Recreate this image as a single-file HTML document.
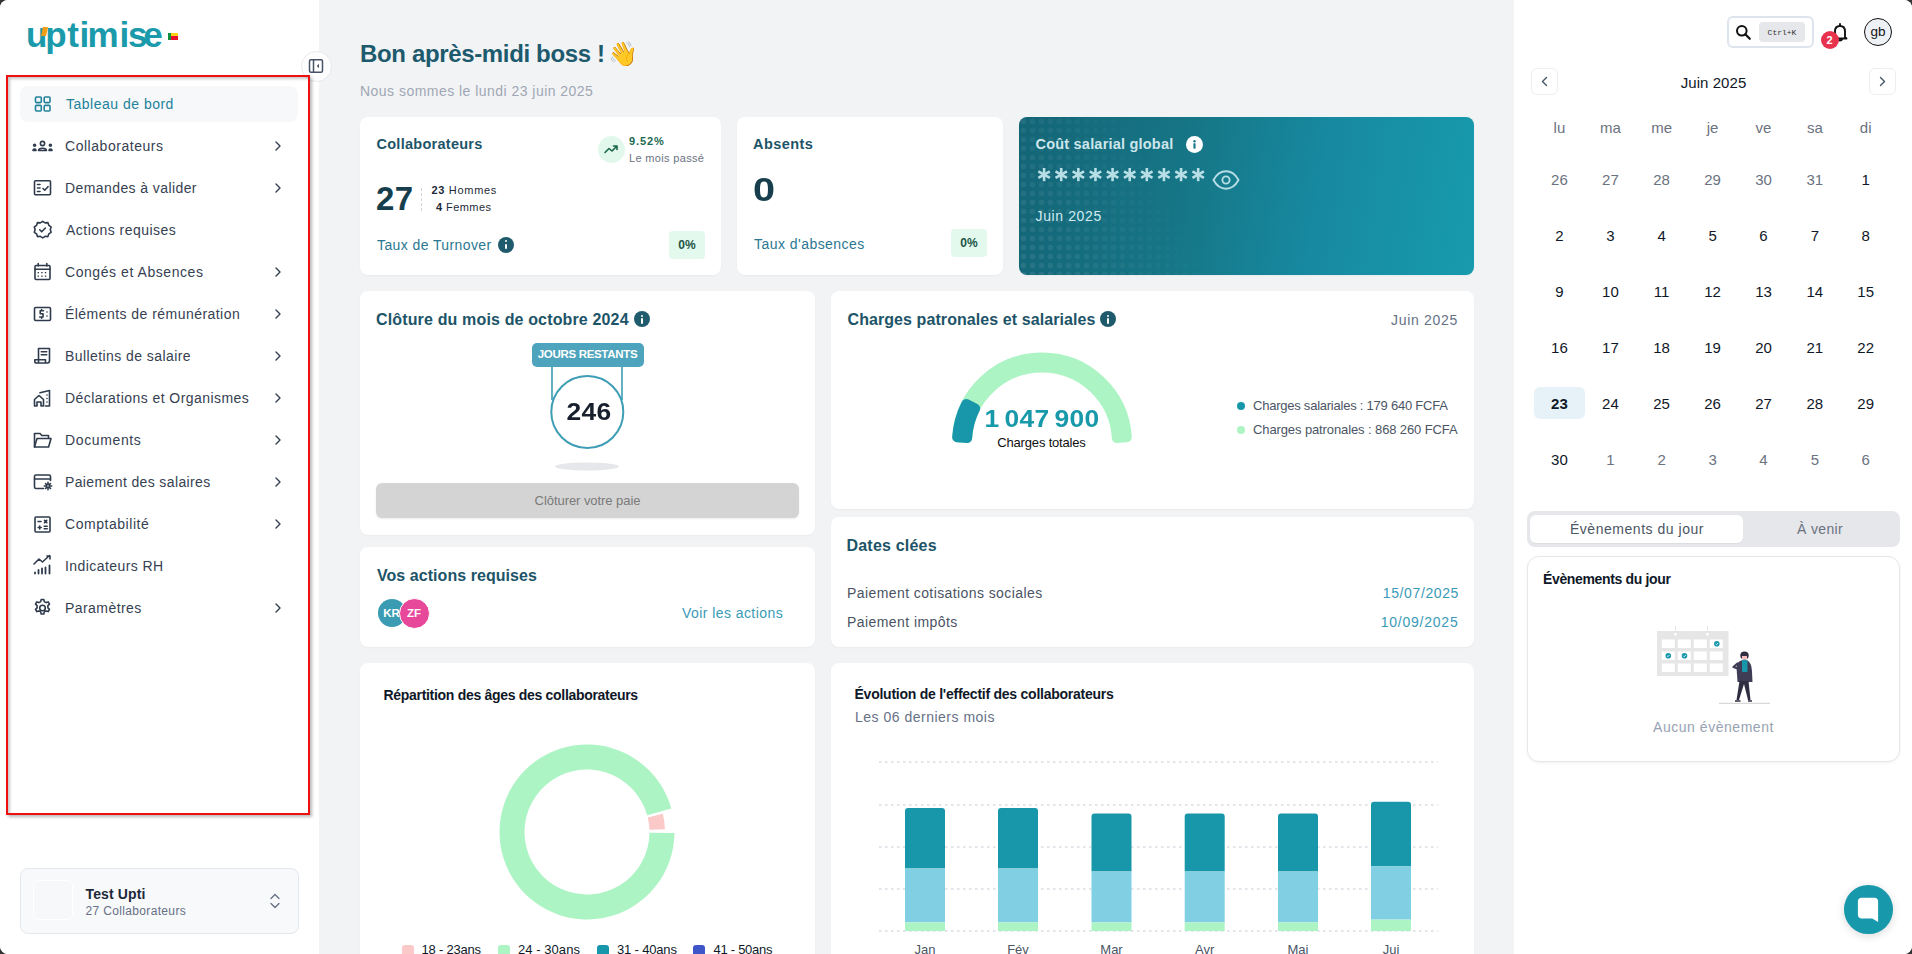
<!DOCTYPE html>
<html><head><meta charset="utf-8">
<style>
*{box-sizing:border-box;margin:0;padding:0}
html,body{width:1912px;height:954px;overflow:hidden;background:#333;font-family:"Liberation Sans",sans-serif}
.app{position:absolute;left:0;top:0;width:1912px;height:954px;border-radius:8px;overflow:hidden;background:#f2f3f5}
.abs{position:absolute;white-space:nowrap}
#side{position:absolute;left:0;top:0;width:319px;height:954px;background:#fff}
#right{position:absolute;left:1514px;top:0;width:398px;height:954px;background:#fff}
.card{position:absolute;background:#fff;border-radius:8px;box-shadow:0 1px 2px rgba(0,0,0,.04)}
.nav{position:absolute;left:20px;width:278px;height:36px}
.nav .t{position:absolute;left:45px;top:10px;font-size:14px;color:#364152;line-height:16px}
.nav svg.ic{position:absolute;left:13px;top:9px;width:18px;height:18px}
.nav svg.ch{position:absolute;left:252px;top:11px;width:14px;height:14px}
.info{width:16px;height:16px;border-radius:50%;background:#1f5b6c}
.info:before{content:"";position:absolute;left:7px;top:3.5px;width:2.2px;height:2.2px;border-radius:50%;background:#fff}
.info:after{content:"";position:absolute;left:7px;top:7px;width:2.2px;height:5.5px;border-radius:1px;background:#fff}
.badge0{width:36px;height:28px;border-radius:4px;background:#e4f9ee;color:#1b5445;font-size:12px;font-weight:bold;text-align:center;line-height:28px}
#teal{background:linear-gradient(100deg,#136576 0%,#167585 35%,#1789a0 65%,#189bad 100%);overflow:hidden}
#teal:before{content:"";position:absolute;left:0;top:0;width:260px;height:158px;background-image:radial-gradient(circle,rgba(255,255,255,.09) 2.6px,transparent 3.2px);background-size:9px 9px;-webkit-mask-image:linear-gradient(65deg,#000 0%,rgba(0,0,0,.6) 25%,transparent 60%);mask-image:linear-gradient(65deg,#000 0%,rgba(0,0,0,.6) 25%,transparent 60%)}
.cd{width:50px;text-align:center;font-size:15px;line-height:17px}
.navbtn{width:27px;height:27px;border:1px solid #eceef2;border-radius:6px;background:#fff}
.navbtn svg{position:absolute;left:-1px;top:-1px}
</style></head><body><div class="app">

<!-- SIDEBAR -->
<div id="side">
 <div class="abs" id="logo" style="left:0;top:9.7px;width:200px;height:50px;font-size:35px;font-weight:bold;color:#1a9aab;line-height:50px"><span id="lg0" style="position: absolute; left: 26px; top: 0px;">u</span><span id="lg1" style="position: absolute; left: 45.3px; top: 0px;">p</span><span id="lg2" style="position: absolute; left: 67.3px; top: 0px;">t</span><span id="lg3" style="position: absolute; left: 79.6px; top: 0px;">i</span><span id="lg4" style="position: absolute; left: 87.6px; top: 0px;">m</span><span id="lg5" style="position: absolute; left: 119.6px; top: 0px;">i</span><span id="lg6" style="position: absolute; left: 127.9px; top: 0px;">s</span><span id="lg7" style="position: absolute; left: 143.2px; top: 0px;">e</span></div>
 <div class="abs" id="utick" style="left: 41.5px; top: 27px; width: 4.5px; height: 9px; background: rgb(242, 157, 22); transform: skewX(-12deg);"></div>
 <div class="abs" style="left:168px;top:33px;width:10px;height:7px;background:linear-gradient(90deg,#11913f 0 3px,transparent 3px),linear-gradient(180deg,#fcd116 0 50%,#e8112d 50%)"></div>
 <div class="abs" style="left:301px;top:51px;width:31px;height:31px;border-radius:50%;background:#fff;border:1px solid #e8eaee"></div>
 <svg class="abs" style="left:308px;top:58px" width="16" height="16" viewBox="0 0 16 16"><rect x="1.5" y="1.7" width="13" height="12.6" rx="1.5" fill="none" stroke="#475467" stroke-width="1.5"></rect><line x1="5.5" y1="2" x2="5.5" y2="14" stroke="#475467" stroke-width="1.5"></line><path d="M11 5.8 L8.8 8 L11 10.2Z" fill="#475467"></path></svg>
 <div class="abs" style="left:6px;top:75px;width:304px;height:740px;border:2px solid #ef0f0f;box-shadow:2px 2px 3px rgba(0,0,0,.28), inset 2px 2px 3px rgba(0,0,0,.22)"></div>
 <div class="abs" style="left:20px;top:86px;width:278px;height:36px;background:#f6f8fa;border-radius:8px"></div>
 <div class="abs" style="left: 66px; top: 95.34px; font-size: 14px; line-height: 18px; color: rgb(35, 130, 154); letter-spacing: 0.499px;">Tableau de bord</div>
 <div class="abs" style="left: 65px; top: 137.34px; font-size: 14px; line-height: 18px; color: rgb(54, 65, 82); letter-spacing: 0.537px;">Collaborateurs</div>
 <svg class="abs" style="left:272px;top:139px" width="12" height="14" viewBox="0 0 12 14"><path d="M4 3 L8 7 L4 11" fill="none" stroke="#364152" stroke-width="1.4" stroke-linecap="round" stroke-linejoin="round"></path></svg>
 <div class="abs" style="left: 65px; top: 179.34px; font-size: 14px; line-height: 18px; color: rgb(54, 65, 82); letter-spacing: 0.412px;">Demandes à valider</div>
 <svg class="abs" style="left:272px;top:181px" width="12" height="14" viewBox="0 0 12 14"><path d="M4 3 L8 7 L4 11" fill="none" stroke="#364152" stroke-width="1.4" stroke-linecap="round" stroke-linejoin="round"></path></svg>
 <div class="abs" style="left: 66px; top: 221.34px; font-size: 14px; line-height: 18px; color: rgb(54, 65, 82); letter-spacing: 0.466px;">Actions requises</div>
 <div class="abs" style="left: 65px; top: 263.34px; font-size: 14px; line-height: 18px; color: rgb(54, 65, 82); letter-spacing: 0.559px;">Congés et Absences</div>
 <svg class="abs" style="left:272px;top:265px" width="12" height="14" viewBox="0 0 12 14"><path d="M4 3 L8 7 L4 11" fill="none" stroke="#364152" stroke-width="1.4" stroke-linecap="round" stroke-linejoin="round"></path></svg>
 <div class="abs" style="left: 65px; top: 305.34px; font-size: 14px; line-height: 18px; color: rgb(54, 65, 82); letter-spacing: 0.456px;">Éléments de rémunération</div>
 <svg class="abs" style="left:272px;top:307px" width="12" height="14" viewBox="0 0 12 14"><path d="M4 3 L8 7 L4 11" fill="none" stroke="#364152" stroke-width="1.4" stroke-linecap="round" stroke-linejoin="round"></path></svg>
 <div class="abs" style="left: 65px; top: 347.34px; font-size: 14px; line-height: 18px; color: rgb(54, 65, 82); letter-spacing: 0.423px;">Bulletins de salaire</div>
 <svg class="abs" style="left:272px;top:349px" width="12" height="14" viewBox="0 0 12 14"><path d="M4 3 L8 7 L4 11" fill="none" stroke="#364152" stroke-width="1.4" stroke-linecap="round" stroke-linejoin="round"></path></svg>
 <div class="abs" style="left: 65px; top: 389.34px; font-size: 14px; line-height: 18px; color: rgb(54, 65, 82); letter-spacing: 0.44px;">Déclarations et Organismes</div>
 <svg class="abs" style="left:272px;top:391px" width="12" height="14" viewBox="0 0 12 14"><path d="M4 3 L8 7 L4 11" fill="none" stroke="#364152" stroke-width="1.4" stroke-linecap="round" stroke-linejoin="round"></path></svg>
 <div class="abs" style="left: 65px; top: 431.34px; font-size: 14px; line-height: 18px; color: rgb(54, 65, 82); letter-spacing: 0.625px;">Documents</div>
 <svg class="abs" style="left:272px;top:433px" width="12" height="14" viewBox="0 0 12 14"><path d="M4 3 L8 7 L4 11" fill="none" stroke="#364152" stroke-width="1.4" stroke-linecap="round" stroke-linejoin="round"></path></svg>
 <div class="abs" style="left: 65px; top: 473.34px; font-size: 14px; line-height: 18px; color: rgb(54, 65, 82); letter-spacing: 0.375px;">Paiement des salaires</div>
 <svg class="abs" style="left:272px;top:475px" width="12" height="14" viewBox="0 0 12 14"><path d="M4 3 L8 7 L4 11" fill="none" stroke="#364152" stroke-width="1.4" stroke-linecap="round" stroke-linejoin="round"></path></svg>
 <div class="abs" style="left: 65px; top: 515.34px; font-size: 14px; line-height: 18px; color: rgb(54, 65, 82); letter-spacing: 0.545px;">Comptabilité</div>
 <svg class="abs" style="left:272px;top:517px" width="12" height="14" viewBox="0 0 12 14"><path d="M4 3 L8 7 L4 11" fill="none" stroke="#364152" stroke-width="1.4" stroke-linecap="round" stroke-linejoin="round"></path></svg>
 <div class="abs" style="left: 65px; top: 557.34px; font-size: 14px; line-height: 18px; color: rgb(54, 65, 82); letter-spacing: 0.423px;">Indicateurs RH</div>
 <div class="abs" style="left: 65px; top: 599.34px; font-size: 14px; line-height: 18px; color: rgb(54, 65, 82); letter-spacing: 0.444px;">Paramètres</div>
 <svg class="abs" style="left:272px;top:601px" width="12" height="14" viewBox="0 0 12 14"><path d="M4 3 L8 7 L4 11" fill="none" stroke="#364152" stroke-width="1.4" stroke-linecap="round" stroke-linejoin="round"></path></svg>

 <svg class="abs" style="left:0;top:0" width="319" height="700" viewBox="0 0 319 700">
  <g fill="none" stroke="#23829a" stroke-width="1.6" stroke-linejoin="round"><rect x="35.5" y="97" width="5.8" height="5.6" rx="1"></rect><rect x="44.2" y="97" width="5.8" height="5.6" rx="1"></rect><rect x="35.5" y="105.4" width="5.8" height="5.6" rx="1"></rect><rect x="44.2" y="105.4" width="5.8" height="5.6" rx="1"></rect></g>
  <g fill="none" stroke="#2f3b4c" stroke-width="1.6" stroke-linecap="round" stroke-linejoin="round"><circle cx="42.5" cy="143.5" r="2.1"></circle><path d="M38.5 150.5 C38.8 147.5 46.2 147.5 46.5 150.5Z"></path><circle cx="34.6" cy="145.2" r="1"></circle><path d="M33 150.5 C33 148.6 36 148.6 36 150.5Z"></path><circle cx="50.4" cy="145.2" r="1"></circle><path d="M49 150.5 C49 148.6 52 148.6 52 150.5Z"></path></g>
  <g fill="none" stroke="#2f3b4c" stroke-width="1.6" stroke-linecap="round" stroke-linejoin="round"><rect x="34.5" y="180.8" width="16" height="14" rx="1"></rect><path d="M37.5 184.5h2.5M37.5 188h2.5M37.5 191.5h2.5M43 188.5l1.7 1.7 3.3-3.5"></path></g>
  <g fill="none" stroke="#2f3b4c" stroke-width="1.6" stroke-linecap="round" stroke-linejoin="round"><path d="M42.7 221.3 l2.4 1.6 2.8-.3 .9 2.7 2.3 1.6-.8 2.7.8 2.7-2.3 1.6-.9 2.7-2.8-.3-2.4 1.6-2.4-1.6-2.8.3-.9-2.7-2.3-1.6.8-2.7-.8-2.7 2.3-1.6.9-2.7 2.8.3Z"></path><path d="M39.7 229.8l2 2 3.7-3.8"></path></g>
  <g fill="none" stroke="#2f3b4c" stroke-width="1.6" stroke-linecap="round" stroke-linejoin="round"><rect x="35" y="265.5" width="15" height="14" rx="1"></rect><path d="M35 269.3h15M38.2 263.5v2.5M46.8 263.5v2.5"></path></g>
  <g fill="#2f3b4c"><rect x="37.6" y="272" width="1.4" height="1.3"></rect><rect x="41.2" y="272" width="1.4" height="1.3"></rect><rect x="44.8" y="272" width="1.4" height="1.3"></rect><rect x="37.6" y="275.5" width="1.4" height="1.3"></rect><rect x="41.2" y="275.5" width="1.4" height="1.3"></rect><rect x="44.8" y="275.5" width="1.4" height="1.3"></rect></g>
  <g fill="none" stroke="#2f3b4c" stroke-width="1.6" stroke-linecap="round" stroke-linejoin="round"><rect x="34.5" y="307.5" width="16" height="13" rx="1.2"></rect><path d="M43.5 310.8h-3.3v3h2.8v3.2h-3.3M41.6 309.6v1.2M41.6 317v1.2M47 312h.01M47 316h.01"></path></g>
  <g fill="none" stroke="#2f3b4c" stroke-width="1.6" stroke-linecap="round" stroke-linejoin="round"><path d="M38.5 362 V348.5 H49.5 V360.5 C49.5 362 48.5 363 47.5 363 H36.5 C35.5 363 34.8 362.2 34.8 361.2 V359.8 H45.5 V362.3"></path><path d="M41.3 351.8h5.4M41.3 354.8h5.4"></path></g>
  <g fill="none" stroke="#2f3b4c" stroke-width="1.6" stroke-linecap="round" stroke-linejoin="round"><path d="M34.5 406 V399.5 L39 395.5 L43.5 399.5 V406 H41 V402 H37 V406Z"></path><path d="M40 392.8 L49.5 390.5 V406 H45.5"></path><path d="M47 395h.01M47 398.5h.01M47 402h.01"></path></g>
  <g fill="none" stroke="#2f3b4c" stroke-width="1.6" stroke-linecap="round" stroke-linejoin="round"><path d="M34.5 447 V433.5 H40 L41.8 435.5 H48.5 V438"></path><path d="M34.5 447 L37 438.5 H51 L48.6 447Z"></path></g>
  <g fill="none" stroke="#2f3b4c" stroke-width="1.6" stroke-linecap="round" stroke-linejoin="round"><path d="M43.5 488.5 H36 C35.2 488.5 34.5 487.8 34.5 487 V476.5 C34.5 475.7 35.2 475 36 475 H49 C49.8 475 50.5 475.7 50.5 476.5 V480.5"></path><path d="M34.5 479h16"></path><circle cx="48" cy="486" r="1.6"></circle><path d="M48 482.2v1.3M48 488.5v1.3M44.3 486h1.3M50.4 486h1.3M45.5 483.5l.9.9M49.6 487.6l.9.9M45.5 488.5l.9-.9M49.6 484.4l.9-.9"></path></g>
  <g fill="none" stroke="#2f3b4c" stroke-width="1.6" stroke-linecap="round" stroke-linejoin="round"><rect x="35" y="517" width="15" height="15" rx="1"></rect><path d="M38 521.5h3M44.5 520.3l2.3 2.3M46.8 520.3l-2.3 2.3M38.2 527.5h3M39.7 526v3M44.2 526.3h3M44.2 528.7h3"></path></g>
  <g fill="none" stroke="#2f3b4c" stroke-width="1.6" stroke-linecap="round" stroke-linejoin="round"><path d="M34 564l5-5 3.5 3 7-6.5M47 556h3v3"></path><path d="M35 573.5v-1M38.5 573.5v-3.5M42 573.5v-5M45.5 573.5v-6M49.5 573.5v-8" stroke-width="1.8"></path></g>
  <g fill="none" stroke="#2f3b4c" stroke-width="1.6" stroke-linecap="round" stroke-linejoin="round"><circle cx="42.5" cy="608" r="2.8"></circle><path d="M41.2 599.5h2.6l.5 2.1 1.8 1 2.1-.7 1.3 2.3-1.6 1.5v2.1l1.6 1.5-1.3 2.3-2.1-.7-1.8 1-.5 2.1h-2.6l-.5-2.1-1.8-1-2.1.7-1.3-2.3 1.6-1.5v-2.1l-1.6-1.5 1.3-2.3 2.1.7 1.8-1Z"></path></g>
 </svg>

 <div class="abs" style="left:20px;top:868px;width:279px;height:66px;border:1px solid #e4e7ec;border-radius:8px;background:#f8f9fb"></div>
 <div class="abs" style="left:33px;top:880px;width:40px;height:40px;border:1px solid #fff;border-radius:6px;background:#f6f8fa"></div>
 <div class="abs" style="left: 85.5px; top: 884.54px; font-size: 14px; font-weight: bold; color: rgb(29, 41, 57); line-height: 18px; letter-spacing: 0.125px;">Test Upti</div>
 <div class="abs" style="left: 85.5px; top: 903.85px; font-size: 12px; color: rgb(102, 112, 133); line-height: 15px; letter-spacing: 0.344px;">27 Collaborateurs</div>
 <svg class="abs" style="left:268px;top:892px" width="14" height="18" viewBox="0 0 14 18"><path d="M3 6.5 L7 2.5 L11 6.5M3 11.5 L7 15.5 L11 11.5" fill="none" stroke="#667085" stroke-width="1.3" stroke-linecap="round" stroke-linejoin="round"></path></svg>
</div>

<!-- MAIN -->
<div id="main">
 <div class="abs" id="h1" style="left: 360px; top: 39.49px; font-size: 24px; font-weight: bold; color: rgb(29, 90, 109); line-height: 30px; letter-spacing: -0.35px;">Bon après-midi boss !</div>
 <div class="abs" style="left:608px;top:39px;font-size:24px;line-height:30px">👋</div>
 <div class="abs" style="left: 360px; top: 83.34px; font-size: 14px; color: rgb(160, 167, 180); line-height: 17px; letter-spacing: 0.469px;">Nous sommes le lundi 23 juin 2025</div>

 <!-- card collaborateurs -->
 <div class="card" style="left:360px;top:117px;width:361px;height:158px"></div>
 <div class="abs" style="left: 376.5px; top: 135.59px; font-size: 14.5px; font-weight: bold; color: rgb(29, 84, 104); line-height: 17px; letter-spacing: 0.27px;">Collaborateurs</div>
 <div class="abs" style="left:598px;top:136px;width:27px;height:27px;border-radius:50%;background:#e3f8ec"></div>
 <svg class="abs" style="left:603px;top:142px" width="17" height="14" viewBox="0 0 17 14"><path d="M2 10.5 L6 6.5 L9 9 L14 4 M10.5 4 H14 V7.5" fill="none" stroke="#17664c" stroke-width="1.6" stroke-linecap="round" stroke-linejoin="round"></path></svg>
 <div class="abs" style="left: 629px; top: 134.85px; font-size: 11px; font-weight: bold; color: rgb(27, 106, 82); line-height: 12px; letter-spacing: 0.875px;">9.52%</div>
 <div class="abs" style="left: 629px; top: 151.74px; font-size: 11px; color: rgb(107, 114, 128); line-height: 12px; letter-spacing: 0.333px;">Le mois passé</div>
 <div class="abs" style="left: 376px; top: 182.15px; font-size: 33px; font-weight: bold; color: rgb(23, 62, 76); line-height: 34px; letter-spacing: 0.5px;">27</div>
 <div class="abs" style="left:421px;top:188px;width:0;height:23px;border-left:1.5px dashed #cfd4dc"></div>
 <div class="abs" style="left: 431.5px; top: 183.65px; font-size: 11px; color: rgb(30, 42, 56); line-height: 12px; letter-spacing: 0.685px;"><b>23</b> Hommes</div>
 <div class="abs" style="left: 436px; top: 200.8px; font-size: 11px; color: rgb(30, 42, 56); line-height: 12px; letter-spacing: 0.429px;"><b>4</b> Femmes</div>
 <div class="abs" style="left: 377px; top: 237.34px; font-size: 14px; color: rgb(42, 120, 145); line-height: 16px; letter-spacing: 0.401px;">Taux de Turnover</div>
 <div class="abs info" style="left:498px;top:236.5px"></div>
 <div class="abs badge0" style="left:669px;top:231px">0%</div>

 <!-- card absents -->
 <div class="card" style="left:737px;top:117px;width:266px;height:158px"></div>
 <div class="abs" style="left: 753px; top: 136.09px; font-size: 14.5px; font-weight: bold; color: rgb(29, 84, 104); line-height: 17px; letter-spacing: 0.417px;">Absents</div>
 <div class="abs" style="left: 753px; top: 172.95px; font-size: 33px; font-weight: bold; color: rgb(23, 62, 76); line-height: 34px; transform: scaleX(1.2); transform-origin: 0 0;">0</div>
 <div class="abs" style="left: 754px; top: 236.04px; font-size: 14px; color: rgb(42, 120, 145); line-height: 16px; letter-spacing: 0.463px;">Taux d'absences</div>
 <div class="abs badge0" style="left:951px;top:229px">0%</div>

 <!-- teal card -->
 <div class="card" id="teal" style="left:1019px;top:117px;width:455px;height:158px"></div>
 <div class="abs" style="left: 1035.5px; top: 136.18px; font-size: 14.5px; font-weight: bold; color: rgb(205, 230, 236); line-height: 17px; letter-spacing: 0.209px;">Coût salarial global</div>
 <div class="abs" style="left:1186px;top:135.5px;width:17px;height:17px;border-radius:50%;background:#fff"></div>
 <svg class="abs" style="left:1186px;top:135.5px" width="17" height="17" viewBox="0 0 17 17"><circle cx="8.5" cy="5.2" r="1.2" fill="#1b7788"></circle><rect x="7.4" y="7.2" width="2.2" height="5.5" rx=".6" fill="#1b7788"></rect></svg>
 <svg class="abs" style="left:1030px;top:160px" width="180" height="30" viewBox="1030 160 180 30"><g stroke="#b9dfe6" stroke-width="2.6"><line x1="1044.10" y1="168.00" x2="1044.10" y2="181.20"/><line x1="1038.38" y1="171.30" x2="1049.82" y2="177.90"/><line x1="1049.82" y1="171.30" x2="1038.38" y2="177.90"/><line x1="1061.22" y1="168.00" x2="1061.22" y2="181.20"/><line x1="1055.50" y1="171.30" x2="1066.94" y2="177.90"/><line x1="1066.94" y1="171.30" x2="1055.50" y2="177.90"/><line x1="1078.34" y1="168.00" x2="1078.34" y2="181.20"/><line x1="1072.62" y1="171.30" x2="1084.06" y2="177.90"/><line x1="1084.06" y1="171.30" x2="1072.62" y2="177.90"/><line x1="1095.46" y1="168.00" x2="1095.46" y2="181.20"/><line x1="1089.74" y1="171.30" x2="1101.18" y2="177.90"/><line x1="1101.18" y1="171.30" x2="1089.74" y2="177.90"/><line x1="1112.58" y1="168.00" x2="1112.58" y2="181.20"/><line x1="1106.86" y1="171.30" x2="1118.30" y2="177.90"/><line x1="1118.30" y1="171.30" x2="1106.86" y2="177.90"/><line x1="1129.70" y1="168.00" x2="1129.70" y2="181.20"/><line x1="1123.98" y1="171.30" x2="1135.42" y2="177.90"/><line x1="1135.42" y1="171.30" x2="1123.98" y2="177.90"/><line x1="1146.82" y1="168.00" x2="1146.82" y2="181.20"/><line x1="1141.10" y1="171.30" x2="1152.54" y2="177.90"/><line x1="1152.54" y1="171.30" x2="1141.10" y2="177.90"/><line x1="1163.94" y1="168.00" x2="1163.94" y2="181.20"/><line x1="1158.22" y1="171.30" x2="1169.66" y2="177.90"/><line x1="1169.66" y1="171.30" x2="1158.22" y2="177.90"/><line x1="1181.06" y1="168.00" x2="1181.06" y2="181.20"/><line x1="1175.34" y1="171.30" x2="1186.78" y2="177.90"/><line x1="1186.78" y1="171.30" x2="1175.34" y2="177.90"/><line x1="1198.18" y1="168.00" x2="1198.18" y2="181.20"/><line x1="1192.46" y1="171.30" x2="1203.90" y2="177.90"/><line x1="1203.90" y1="171.30" x2="1192.46" y2="177.90"/></g></svg>
 <svg class="abs" style="left:1210px;top:168px" width="32" height="24" viewBox="1210 168 32 24"><path d="M1213.5 180 C1217 173.5 1221.5 171.3 1226 171.3 C1230.5 171.3 1235 173.5 1238.5 180 C1235 186.5 1230.5 188.7 1226 188.7 C1221.5 188.7 1217 186.5 1213.5 180Z" fill="none" stroke="#b6dde4" stroke-width="1.9"/><circle cx="1226" cy="180" r="3.6" fill="none" stroke="#b6dde4" stroke-width="1.9"/></svg>
 <div class="abs" style="left: 1035.5px; top: 207.94px; font-size: 14px; color: rgb(210, 234, 239); line-height: 17px; letter-spacing: 0.625px;">Juin 2025</div>

 <!-- cloture -->
 <div class="card" style="left:360px;top:291px;width:455px;height:244px"></div>
 <div class="abs" style="left: 376px; top: 310.13px; font-size: 16px; font-weight: bold; color: rgb(29, 84, 104); line-height: 19px; letter-spacing: 0.15px;">Clôture du mois de octobre 2024</div>
 <div class="abs info" style="left:634px;top:311px"></div>
 <svg class="abs" style="left:520px;top:340px" width="135" height="135" viewBox="520 340 135 135">
  <line x1="552" y1="364" x2="552" y2="400" stroke="#3d9db5" stroke-width="1.6"></line>
  <line x1="622" y1="364" x2="622" y2="400" stroke="#3d9db5" stroke-width="1.6"></line>
  <ellipse cx="587" cy="466.5" rx="32" ry="4" fill="#e5e7eb"></ellipse>
  <circle cx="587.3" cy="412" r="36" fill="#fff" stroke="#3d9db5" stroke-width="2"></circle>
 </svg>
 <div class="abs" style="left: 531.5px; top: 343px; width: 112px; height: 24px; background: rgb(78, 164, 188); border-radius: 5px; color: rgb(255, 255, 255); font-size: 11.5px; font-weight: bold; text-align: center; line-height: 22px; letter-spacing: -0.307px;">JOURS RESTANTS</div>
 <div class="abs" style="left: 538.5px; top: 398.29px; width: 100px; text-align: center; font-size: 24px; font-weight: bold; color: rgb(24, 32, 46); line-height: 28px; letter-spacing: 0.3px; transform: scaleX(1.1);">246</div>
 <div class="abs" style="left: 376px; top: 482.95px; width: 423px; height: 35px; background: rgb(212, 212, 212); border-radius: 6px; box-shadow: rgba(0, 0, 0, 0.08) 0px 1px 2px; color: rgb(122, 122, 122); font-size: 13px; text-align: center; line-height: 35px; letter-spacing: -0.056px;">Clôturer votre paie</div>

 <!-- charges -->
 <div class="card" style="left:831px;top:291px;width:643px;height:218px"></div>
 <div class="abs" style="left: 847.5px; top: 309.93px; font-size: 16px; font-weight: bold; color: rgb(29, 84, 104); line-height: 19px; letter-spacing: 0.079px;">Charges patronales et salariales</div>
 <div class="abs info" style="left:1100px;top:311px"></div>
 <div class="abs" style="left: 1380px; top: 311.74px; width: 78px; text-align: right; font-size: 14px; color: rgb(102, 112, 133); line-height: 17px; letter-spacing: 0.69px;">Juin 2025</div>
 <svg class="abs" style="left:940px;top:340px" width="205" height="110" viewBox="940 340 205 110">
  <path id="g1" stroke="#adf4c5" stroke-width="10" stroke-linejoin="round" d="M957.16 437.31 A85 85 0 0 1 1126.84 437.31 L1116.86 437.92 A75 75 0 0 0 967.14 437.92Z" fill="#adf4c5"></path>
  <path id="g2" stroke="#1797a9" stroke-width="10" stroke-linejoin="round" d="M957.16 437.31 A85 85 0 0 1 966.26 403.91 L975.17 408.45 A75 75 0 0 0 967.14 437.92Z" fill="#1797a9"></path>
 </svg>
 <div class="abs" style="left: 962px; top: 404.79px; width: 160px; text-align: center; font-size: 24px; font-weight: bold; color: rgb(24, 153, 170); line-height: 28px; letter-spacing: 0.3px; word-spacing: -2.5px; transform: scaleX(1.1);">1 047 900</div>
 <div class="abs" style="left: 961.5px; top: 434.95px; width: 160px; text-align: center; font-size: 13px; color: rgb(16, 16, 16); line-height: 15px; letter-spacing: -0.179px;">Charges totales</div>
 <div class="abs" style="left:1236.5px;top:401.5px;width:8px;height:8px;border-radius:50%;background:#1797a9"></div>
 <div class="abs" style="left:1236.5px;top:425.5px;width:8px;height:8px;border-radius:50%;background:#adf4c5"></div>
 <div class="abs" style="left: 1253px; top: 398.24px; font-size: 13px; color: rgb(75, 85, 101); line-height: 15px; letter-spacing: -0.235px;">Charges salariales : 179 640 FCFA</div>
 <div class="abs" style="left: 1253px; top: 422.24px; font-size: 13px; color: rgb(75, 85, 101); line-height: 15px; letter-spacing: -0.109px;">Charges patronales : 868 260 FCFA</div>

 <!-- actions -->
 <div class="card" style="left:360px;top:547px;width:455px;height:100px"></div>
 <div class="abs" style="left: 377px; top: 565.53px; font-size: 16px; font-weight: bold; color: rgb(29, 84, 104); line-height: 19px; letter-spacing: 0.053px;">Vos actions requises</div>
 <div class="abs" style="left:377.5px;top:599px;width:28px;height:28px;border-radius:50%;background:#3a9bb3;color:#fff;font-size:11.5px;font-weight:bold;line-height:28px;text-align:center">KR</div>
 <div class="abs" style="left:398.5px;top:597.5px;width:31px;height:31px;border-radius:50%;background:#e8489a;border:1.5px solid #fff;color:#fff;font-size:11.5px;font-weight:bold;line-height:28px;text-align:center">ZF</div>
 <div class="abs" style="left: 682px; top: 605.34px; font-size: 14px; color: rgb(58, 154, 182); line-height: 17px; letter-spacing: 0.432px;">Voir les actions</div>

 <!-- dates -->
 <div class="card" style="left:831px;top:517px;width:643px;height:130px"></div>
 <div class="abs" style="left: 846.5px; top: 535.63px; font-size: 16px; font-weight: bold; color: rgb(29, 84, 104); line-height: 19px; letter-spacing: 0.2px;">Dates clées</div>
 <div class="abs" style="left: 847px; top: 584.74px; font-size: 14px; color: rgb(74, 83, 99); line-height: 17px; letter-spacing: 0.411px;">Paiement cotisations sociales</div>
 <div class="abs" style="left: 1301px; top: 584.74px; width: 158px; text-align: right; font-size: 14px; color: rgb(58, 154, 182); line-height: 17px; letter-spacing: 0.61px;">15/07/2025</div>
 <div class="abs" style="left: 847px; top: 613.84px; font-size: 14px; color: rgb(74, 83, 99); line-height: 17px; letter-spacing: 0.428px;">Paiement impôts</div>
 <div class="abs" style="left: 1300.5px; top: 613.84px; width: 158px; text-align: right; font-size: 14px; color: rgb(58, 154, 182); line-height: 17px; letter-spacing: 0.778px;">10/09/2025</div>

 <!-- repartition -->
 <div class="card" style="left:360px;top:663px;width:455px;height:320px"></div>
 <div class="abs" style="left: 383.5px; top: 686.74px; font-size: 14px; font-weight: bold; color: rgb(16, 24, 40); line-height: 17px; letter-spacing: -0.302px;">Répartition des âges des collaborateurs</div>
 <svg class="abs" style="left:480px;top:730px" width="210" height="205" viewBox="480 730 210 205">
  <path id="d1" d="M671.32 808.62 A87.5 87.5 0 1 0 674.49 833.07 L649.50 832.76 A62.5 62.5 0 1 1 647.23 815.30Z" fill="#adf4c5"></path>
  <path id="d2" d="M664.95 829.28 A78 78 0 0 0 662.84 813.79 L647.77 817.41 A62.5 62.5 0 0 1 649.46 829.82Z" fill="#fcc9c9"></path>
 </svg>
 <div class="abs" style="left:402px;top:944.5px;width:12px;height:12px;border-radius:3px;background:#fcc9c9"></div>
 <div class="abs" style="left:498px;top:944.5px;width:12px;height:12px;border-radius:3px;background:#adf4c5"></div>
 <div class="abs" style="left:597px;top:944.5px;width:12px;height:12px;border-radius:3px;background:#1797a9"></div>
 <div class="abs" style="left:693px;top:944.5px;width:12px;height:12px;border-radius:3px;background:#3f56c9"></div>
 <div class="abs" style="left: 421.5px; top: 941.5px; font-size: 13px; color: rgb(16, 24, 40); line-height: 15px; letter-spacing: -0.221px;">18 - 23ans</div>
 <div class="abs" style="left: 518px; top: 941.5px; font-size: 13px; color: rgb(16, 24, 40); line-height: 15px; letter-spacing: 0.055px;">24 - 30ans</div>
 <div class="abs" style="left: 617px; top: 941.5px; font-size: 13px; color: rgb(16, 24, 40); line-height: 15px; letter-spacing: -0.166px;">31 - 40ans</div>
 <div class="abs" style="left: 713.5px; top: 941.5px; font-size: 13px; color: rgb(16, 24, 40); line-height: 15px; letter-spacing: -0.277px;">41 - 50ans</div>

 <!-- evolution -->
 <div class="card" style="left:831px;top:663px;width:643px;height:320px"></div>
 <div class="abs" style="left: 854.5px; top: 686.34px; font-size: 14px; font-weight: bold; color: rgb(16, 24, 40); line-height: 17px; letter-spacing: -0.245px;">Évolution de l'effectif des collaborateurs</div>
 <div class="abs" style="left: 855px; top: 709.34px; font-size: 14px; color: rgb(102, 112, 133); line-height: 17px; letter-spacing: 0.5px;">Les 06 derniers mois</div>
 <svg class="abs" style="left:870px;top:750px" width="580" height="204" viewBox="870 750 580 204" id="bars"><line x1="879" y1="762" x2="1438" y2="762" stroke="#d9dde3" stroke-width="1.3" stroke-dasharray="2.5 3.5"></line><line x1="879" y1="805" x2="1438" y2="805" stroke="#d9dde3" stroke-width="1.3" stroke-dasharray="2.5 3.5"></line><line x1="879" y1="847" x2="1438" y2="847" stroke="#d9dde3" stroke-width="1.3" stroke-dasharray="2.5 3.5"></line><line x1="879" y1="889" x2="1438" y2="889" stroke="#d9dde3" stroke-width="1.3" stroke-dasharray="2.5 3.5"></line><line x1="879" y1="931" x2="1438" y2="931" stroke="#d9dde3" stroke-width="1.3" stroke-dasharray="2.5 3.5"></line><path d="M905 868.6 V811 Q905 808 908 808 H942 Q945 808 945 811 V868.6Z" fill="#1797a9"></path><rect x="905" y="868.6" width="40" height="53.799999999999955" fill="#80cfe3"></rect><rect x="905" y="922.4" width="40" height="8.600000000000023" fill="#adf4c5"></rect><path d="M998 868.6 V811 Q998 808 1001 808 H1035 Q1038 808 1038 811 V868.6Z" fill="#1797a9"></path><rect x="998" y="868.6" width="40" height="53.799999999999955" fill="#80cfe3"></rect><rect x="998" y="922.4" width="40" height="8.600000000000023" fill="#adf4c5"></rect><path d="M1091.5 871.6 V816.4 Q1091.5 813.4 1094.5 813.4 H1128.5 Q1131.5 813.4 1131.5 816.4 V871.6Z" fill="#1797a9"></path><rect x="1091.5" y="871.6" width="40" height="50.799999999999955" fill="#80cfe3"></rect><rect x="1091.5" y="922.4" width="40" height="8.600000000000023" fill="#adf4c5"></rect><path d="M1184.7 871.6 V816.4 Q1184.7 813.4 1187.7 813.4 H1221.7 Q1224.7 813.4 1224.7 816.4 V871.6Z" fill="#1797a9"></path><rect x="1184.7" y="871.6" width="40" height="50.799999999999955" fill="#80cfe3"></rect><rect x="1184.7" y="922.4" width="40" height="8.600000000000023" fill="#adf4c5"></rect><path d="M1278 871.6 V816.4 Q1278 813.4 1281 813.4 H1315 Q1318 813.4 1318 816.4 V871.6Z" fill="#1797a9"></path><rect x="1278" y="871.6" width="40" height="50.799999999999955" fill="#80cfe3"></rect><rect x="1278" y="922.4" width="40" height="8.600000000000023" fill="#adf4c5"></rect><path d="M1371 866.2 V804.8 Q1371 801.8 1374 801.8 H1408 Q1411 801.8 1411 804.8 V866.2Z" fill="#1797a9"></path><rect x="1371" y="866.2" width="40" height="53.39999999999998" fill="#80cfe3"></rect><rect x="1371" y="919.6" width="40" height="11.399999999999977" fill="#adf4c5"></rect><text x="925" y="953.6" text-anchor="middle" font-size="13" fill="#4b5565" font-family="Liberation Sans">Jan</text><text x="1018" y="953.6" text-anchor="middle" font-size="13" fill="#4b5565" font-family="Liberation Sans">Fév</text><text x="1111.5" y="953.6" text-anchor="middle" font-size="13" fill="#4b5565" font-family="Liberation Sans">Mar</text><text x="1204.7" y="953.6" text-anchor="middle" font-size="13" fill="#4b5565" font-family="Liberation Sans">Avr</text><text x="1298" y="953.6" text-anchor="middle" font-size="13" fill="#4b5565" font-family="Liberation Sans">Mai</text><text x="1391" y="953.6" text-anchor="middle" font-size="13" fill="#4b5565" font-family="Liberation Sans">Jui</text></svg>
</div>

<!-- RIGHT -->
<div id="right">
 <div class="abs" style="left:213px;top:16px;width:87px;height:32px;border:2px solid #dde4ee;border-radius:6px;background:#fff"></div>
 <svg class="abs" style="left:221px;top:24px" width="17" height="17" viewBox="0 0 17 17"><circle cx="6.8" cy="6.8" r="4.8" fill="none" stroke="#111" stroke-width="2"></circle><path d="M10.3 10.3 L14.8 14.8" stroke="#111" stroke-width="2.2" stroke-linecap="round"></path></svg>
 <div class="abs" style="left:245px;top:22px;width:46px;height:20px;border-radius:4px;background:#e5e7eb;font-family:'Liberation Mono',monospace;font-size:8px;color:#333;text-align:center;line-height:21px">Ctrl+K</div>
 <svg class="abs" style="left:318px;top:22px" width="16" height="21" viewBox="0 0 16 21"><path d="M8 2 V3.5 M3 15 V9.5 C3 6 5 4 8 4 C11 4 13 6 13 9.5 V15 L14.5 16.5 H1.5 Z M6 17.5 C6.5 19 9.5 19 10 17.5" fill="none" stroke="#111" stroke-width="1.9" stroke-linejoin="round" stroke-linecap="round"></path></svg>
 <div class="abs" style="left:306.5px;top:30.5px;width:18px;height:18px;border-radius:50%;background:#e8334f;color:#fff;font-size:11px;font-weight:bold;text-align:center;line-height:18px">2</div>
 <div class="abs" style="left:350px;top:18px;width:28px;height:28px;border-radius:50%;background:#eef2f7;border:1.3px solid #111;font-size:13.5px;color:#111;text-align:center;line-height:26px">gb</div>
 <div class="abs navbtn" style="left:16.5px;top:68px"><svg width="27" height="27" viewBox="0 0 27 27"><path d="M15.5 9.5 L11.5 13.5 L15.5 17.5" fill="none" stroke="#475467" stroke-width="1.4" stroke-linecap="round" stroke-linejoin="round"></path></svg></div>
 <div class="abs navbtn" style="left:354.5px;top:68px"><svg width="27" height="27" viewBox="0 0 27 27"><path d="M11.5 9.5 L15.5 13.5 L11.5 17.5" fill="none" stroke="#475467" stroke-width="1.4" stroke-linecap="round" stroke-linejoin="round"></path></svg></div>
 <div class="abs" style="left: 121px; top: 73.63px; width: 157px; text-align: center; font-size: 15px; color: rgb(16, 24, 40); line-height: 18px; letter-spacing: 0.065px;">Juin 2025</div>
 <div class="abs cd" style="left:20.4px;top:119px;color:#6b7280">lu</div>
 <div class="abs cd" style="left:71.4px;top:119px;color:#6b7280">ma</div>
 <div class="abs cd" style="left:122.6px;top:119px;color:#6b7280">me</div>
 <div class="abs cd" style="left:173.6px;top:119px;color:#6b7280">je</div>
 <div class="abs cd" style="left:224.5px;top:119px;color:#6b7280">ve</div>
 <div class="abs cd" style="left:275.8px;top:119px;color:#6b7280">sa</div>
 <div class="abs cd" style="left:326.7px;top:119px;color:#6b7280">di</div>
 <div class="abs" style="left:20px;top:387px;width:51px;height:31.5px;border-radius:6px;background:#e7f2f8"></div>
 <div class="abs cd" style="left:20.4px;top:170.5px;color:#6b7280">26</div>
 <div class="abs cd" style="left:71.4px;top:170.5px;color:#6b7280">27</div>
 <div class="abs cd" style="left:122.6px;top:170.5px;color:#6b7280">28</div>
 <div class="abs cd" style="left:173.6px;top:170.5px;color:#6b7280">29</div>
 <div class="abs cd" style="left:224.5px;top:170.5px;color:#6b7280">30</div>
 <div class="abs cd" style="left:275.8px;top:170.5px;color:#6b7280">31</div>
 <div class="abs cd" style="left:326.7px;top:170.5px;color:#101828">1</div>
 <div class="abs cd" style="left:20.4px;top:226.5px;color:#101828">2</div>
 <div class="abs cd" style="left:71.4px;top:226.5px;color:#101828">3</div>
 <div class="abs cd" style="left:122.6px;top:226.5px;color:#101828">4</div>
 <div class="abs cd" style="left:173.6px;top:226.5px;color:#101828">5</div>
 <div class="abs cd" style="left:224.5px;top:226.5px;color:#101828">6</div>
 <div class="abs cd" style="left:275.8px;top:226.5px;color:#101828">7</div>
 <div class="abs cd" style="left:326.7px;top:226.5px;color:#101828">8</div>
 <div class="abs cd" style="left:20.4px;top:282.5px;color:#101828">9</div>
 <div class="abs cd" style="left:71.4px;top:282.5px;color:#101828">10</div>
 <div class="abs cd" style="left:122.6px;top:282.5px;color:#101828">11</div>
 <div class="abs cd" style="left:173.6px;top:282.5px;color:#101828">12</div>
 <div class="abs cd" style="left:224.5px;top:282.5px;color:#101828">13</div>
 <div class="abs cd" style="left:275.8px;top:282.5px;color:#101828">14</div>
 <div class="abs cd" style="left:326.7px;top:282.5px;color:#101828">15</div>
 <div class="abs cd" style="left:20.4px;top:338.5px;color:#101828">16</div>
 <div class="abs cd" style="left:71.4px;top:338.5px;color:#101828">17</div>
 <div class="abs cd" style="left:122.6px;top:338.5px;color:#101828">18</div>
 <div class="abs cd" style="left:173.6px;top:338.5px;color:#101828">19</div>
 <div class="abs cd" style="left:224.5px;top:338.5px;color:#101828">20</div>
 <div class="abs cd" style="left:275.8px;top:338.5px;color:#101828">21</div>
 <div class="abs cd" style="left:326.7px;top:338.5px;color:#101828">22</div>
 <div class="abs cd" style="left:20.4px;top:394.5px;color:#101828;font-weight:bold">23</div>
 <div class="abs cd" style="left:71.4px;top:394.5px;color:#101828">24</div>
 <div class="abs cd" style="left:122.6px;top:394.5px;color:#101828">25</div>
 <div class="abs cd" style="left:173.6px;top:394.5px;color:#101828">26</div>
 <div class="abs cd" style="left:224.5px;top:394.5px;color:#101828">27</div>
 <div class="abs cd" style="left:275.8px;top:394.5px;color:#101828">28</div>
 <div class="abs cd" style="left:326.7px;top:394.5px;color:#101828">29</div>
 <div class="abs cd" style="left:20.4px;top:450.5px;color:#101828">30</div>
 <div class="abs cd" style="left:71.4px;top:450.5px;color:#6b7280">1</div>
 <div class="abs cd" style="left:122.6px;top:450.5px;color:#6b7280">2</div>
 <div class="abs cd" style="left:173.6px;top:450.5px;color:#6b7280">3</div>
 <div class="abs cd" style="left:224.5px;top:450.5px;color:#6b7280">4</div>
 <div class="abs cd" style="left:275.8px;top:450.5px;color:#6b7280">5</div>
 <div class="abs cd" style="left:326.7px;top:450.5px;color:#6b7280">6</div>

 <div class="abs" style="left:12.5px;top:511px;width:373px;height:35.5px;border-radius:8px;background:#e5e7eb"></div>
 <div class="abs" style="left:16px;top:515px;width:213px;height:27.5px;border-radius:6px;background:#fff;box-shadow:0 1px 1px rgba(0,0,0,.04)"></div>
 <div class="abs" style="left: 16.5px; top: 521.14px; width: 213px; text-align: center; font-size: 14px; color: rgb(75, 85, 99); line-height: 17px; letter-spacing: 0.529px;">Évènements du jour</div>
 <div class="abs" style="left: 229.5px; top: 521.14px; width: 153px; text-align: center; font-size: 14px; color: rgb(107, 114, 128); line-height: 17px; letter-spacing: 0.333px;">À venir</div>
 <div class="abs" style="left:12.5px;top:555.5px;width:373px;height:206px;border-radius:12px;background:#fff;border:1px solid #e5e7eb;box-shadow:0 1px 3px rgba(0,0,0,.06)"></div>
 <div class="abs" style="left: 29px; top: 571.24px; font-size: 14px; font-weight: bold; color: rgb(16, 24, 40); line-height: 17px; letter-spacing: -0.351px;">Évènements du jour</div>
 <div class="abs" style="left: 121px; top: 719.04px; width: 157px; text-align: center; font-size: 14px; color: rgb(152, 162, 179); line-height: 17px; letter-spacing: 0.536px;">Aucun évènement</div>
 <svg class="abs" style="left:140px;top:620px" width="120" height="90" viewBox="1654 620 120 90">
  <rect x="1657" y="631" width="71.5" height="45" fill="#e6e6e6"></rect>
  <g fill="#fff">
   <rect x="1661.8" y="639.5" width="13" height="8.5"></rect><rect x="1677.8" y="639.5" width="13" height="8.5"></rect><rect x="1693.8" y="639.5" width="13" height="8.5"></rect><rect x="1709.8" y="639.5" width="13" height="8.5"></rect>
   <rect x="1661.8" y="651.5" width="13" height="8.5"></rect><rect x="1677.8" y="651.5" width="13" height="8.5"></rect><rect x="1693.8" y="651.5" width="13" height="8.5"></rect><rect x="1709.8" y="651.5" width="13" height="8.5"></rect>
   <rect x="1661.8" y="663.5" width="13" height="8.5"></rect><rect x="1677.8" y="663.5" width="13" height="8.5"></rect><rect x="1693.8" y="663.5" width="13" height="8.5"></rect><rect x="1709.8" y="663.5" width="13" height="8.5"></rect>
  </g>
  <path d="M1675.5 626 V634 M1707.5 626 V634" stroke="#e6e6e6" stroke-width="1"></path>
  <circle cx="1675.5" cy="634.3" r="1.4" fill="#fff"></circle><circle cx="1707.5" cy="634.3" r="1.4" fill="#fff"></circle>
  <g fill="#1797a9"><circle cx="1716.8" cy="643.8" r="2.8"></circle><circle cx="1668.3" cy="655.8" r="2.8"></circle><circle cx="1684.5" cy="655.8" r="2.8"></circle></g><g fill="none" stroke="#fff" stroke-width=".8"><path d="M1715.6 643.8l.9.9 1.6-1.7"/><path d="M1667.1 655.8l.9.9 1.6-1.7"/><path d="M1683.3 655.8l.9.9 1.6-1.7"/></g><path d="M1738 663 L1733.5 667 L1743.5 670.5" fill="none" stroke="#3f3d56" stroke-width="2.2" stroke-linejoin="round"/>
  <ellipse cx="1744.5" cy="655.5" rx="4.2" ry="4" fill="#2f2e41"></ellipse>
  <rect x="1742" y="656" width="5" height="3" fill="#fbbebe"></rect>
  <path d="M1736.5 667 C1737 662 1740 660 1744.5 660 C1749 660 1751.5 663 1752 672 L1752.5 682 H1737.5 Z" fill="#3f3d56"></path>
  <rect x="1742" y="660" width="5.5" height="12" rx="1" fill="#1797a9"></rect>
  <path d="M1739.5 681 L1736.5 700 H1739 L1744 684 L1748 700 H1750.5 L1748.5 681 Z" fill="#2f2e41"></path>
  <path d="M1735 701 H1740.5 M1748 701 H1752" stroke="#2f2e41" stroke-width="1.5"></path>
  <path d="M1719 703.3 H1770" stroke="#c8c8c8" stroke-width=".9"></path>
 </svg>
 <div class="abs" style="left:330px;top:885px;width:48.5px;height:48.5px;border-radius:50%;background:#1899ab;box-shadow:0 2px 8px rgba(0,0,0,.15)"></div>
 <svg class="abs" style="left:340px;top:890px" width="30" height="36" viewBox="1854 890 30 36"><path d="M1861.5 897.8 H1874.6 C1876.6 897.8 1878.1 899.3 1878.1 901.3 V921.9 L1872.2 918.4 H1861.5 C1859.5 918.4 1857.9 916.9 1857.9 914.9 V901.3 C1857.9 899.3 1859.5 897.8 1861.5 897.8Z" fill="#fff"/></svg>
</div>

</div>
</body></html>
